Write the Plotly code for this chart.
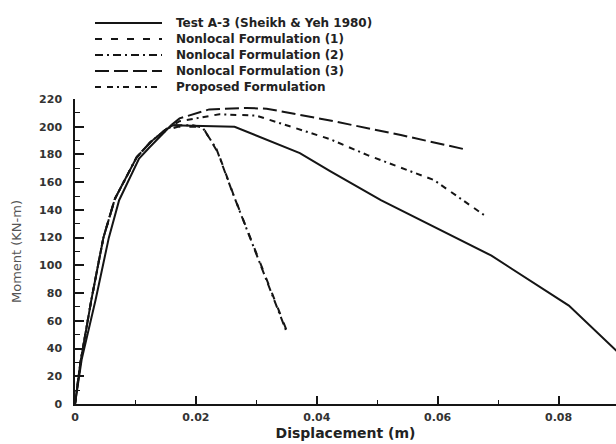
import plotly.graph_objects as go

# Moment-displacement response: test data and four numerical formulations
test_x = [0, 0.0011, 0.0034, 0.0056, 0.0073, 0.0106, 0.0123, 0.0159, 0.0264, 0.0322, 0.0372, 0.0422, 0.0506, 0.0689, 0.0817, 0.0899]
test_y = [0, 32, 75, 120, 147, 177, 185, 201, 200, 190, 181, 168, 147, 107, 71, 37]

nl1_x = [0, 0.0009, 0.0027, 0.0047, 0.0066, 0.0102, 0.0125, 0.0150, 0.0170, 0.0200, 0.0215, 0.0237, 0.0263, 0.0297, 0.0330, 0.0352]
nl1_y = [0, 30, 75, 120, 148, 178, 189, 197, 200, 200, 197, 181, 150, 112, 76, 51]

nl2_x = [0, 0.0009, 0.0027, 0.0047, 0.0066, 0.0102, 0.0125, 0.0150, 0.0165, 0.0195, 0.0211, 0.0234, 0.0261, 0.0295, 0.0328, 0.0350]
nl2_y = [0, 30, 75, 120, 148, 178, 189, 198, 201, 201, 199.5, 184, 152, 113.5, 77.5, 52]

nl3_x = [0, 0.0009, 0.0027, 0.0047, 0.0066, 0.0102, 0.0125, 0.0150, 0.0173, 0.0222, 0.0284, 0.0317, 0.0422, 0.0539, 0.0642]
nl3_y = [0, 30, 75, 120, 148, 178, 189, 198, 206, 212.5, 213.5, 213, 204.5, 194, 184]

prop_x = [0, 0.0009, 0.0027, 0.0047, 0.0066, 0.0102, 0.0125, 0.0150, 0.0173, 0.0239, 0.0300, 0.0372, 0.0422, 0.0484, 0.0594, 0.0681]
prop_y = [0, 30, 75, 120, 148, 178, 189, 198, 204, 209, 208, 198, 191, 179.5, 161.5, 135]

series_names = [
    "Test A-3 (Sheikh & Yeh 1980)",
    "Nonlocal Formulation (1)",
    "Nonlocal Formulation (2)",
    "Nonlocal Formulation (3)",
    "Proposed Formulation",
]
series_x = [test_x, nl1_x, nl2_x, nl3_x, prop_x]
series_y = [test_y, nl1_y, nl2_y, nl3_y, prop_y]
series_dash = ["solid", "7px,9px", "8px,4px,2px,4px", "14px,5px", "6px,6px,6px,4px,2px,4px"]

x_ticks = [0, 0.02, 0.04, 0.06, 0.08]
x_tick_text = ["0", "0.02", "0.04", "0.06", "0.08"]
y_ticks = list(range(0, 221, 20))

W, H = 616, 444
ML, MR, MT, MB = 75, 0, 99, 40
PW, PH = W - ML - MR, H - MT - MB

ink = "#151515"
fig = go.Figure()
for name, xs, ys, dash in zip(series_names, series_x, series_y, series_dash):
    fig.add_trace(go.Scatter(
        x=xs, y=ys, mode="lines", name=name, showlegend=False,
        line=dict(color=ink, width=2, dash=dash),
    ))

# Key above the plot area: line sample + label per series (pixel layout -> paper coords)
def px_x(p):
    return (p - ML) / PW

def px_y(p):
    return (H - MB - p) / PH

key_top, key_step = 23, 16
for i, (name, dash) in enumerate(zip(series_names, series_dash)):
    yy = px_y(key_top + i * key_step)
    fig.add_shape(type="line", xref="paper", yref="paper",
                  x0=px_x(95), x1=px_x(162), y0=yy, y1=yy,
                  line=dict(color=ink, width=2, dash=dash))
    fig.add_annotation(xref="paper", yref="paper", x=px_x(174), y=yy,
                       xanchor="left", yanchor="middle", showarrow=False,
                       text=name,
                       font=dict(family="DejaVu Sans", size=12, color="#222", weight="bold"))

tick_font = dict(family="DejaVu Sans", size=11, color="#333", weight="bold")

fig.update_layout(
    width=W, height=H,
    margin=dict(l=ML, r=MR, t=MT, b=MB),
    paper_bgcolor="white", plot_bgcolor="white",
    showlegend=False,
    xaxis=dict(
        range=[0, 0.0895], showgrid=False, zeroline=False,
        showline=True, linecolor=ink, linewidth=2,
        tickvals=x_ticks, ticktext=x_tick_text,
        ticks="inside", ticklen=8, tickwidth=1.5, tickcolor=ink,
        minor=dict(dtick=0.01, ticks="inside", ticklen=4, tickwidth=1, tickcolor=ink),
        tickfont=tick_font, ticklabelstandoff=2,
        title=dict(text="Displacement (m)", standoff=5,
                   font=dict(family="DejaVu Sans", size=14, color="#222", weight="bold")),
    ),
    yaxis=dict(
        range=[0, 220], showgrid=False, zeroline=False,
        showline=True, linecolor=ink, linewidth=1.5,
        tickvals=y_ticks,
        ticks="inside", ticklen=9, tickwidth=1.5, tickcolor=ink,
        minor=dict(dtick=10, ticks="inside", ticklen=5, tickwidth=1, tickcolor=ink),
        tickfont=tick_font, ticklabelstandoff=9,
        title=dict(text="Moment (KN-m)", standoff=15,
                   font=dict(family="DejaVu Sans", size=13, color="#555")),
    ),
)

fig.write_html("out.html")
